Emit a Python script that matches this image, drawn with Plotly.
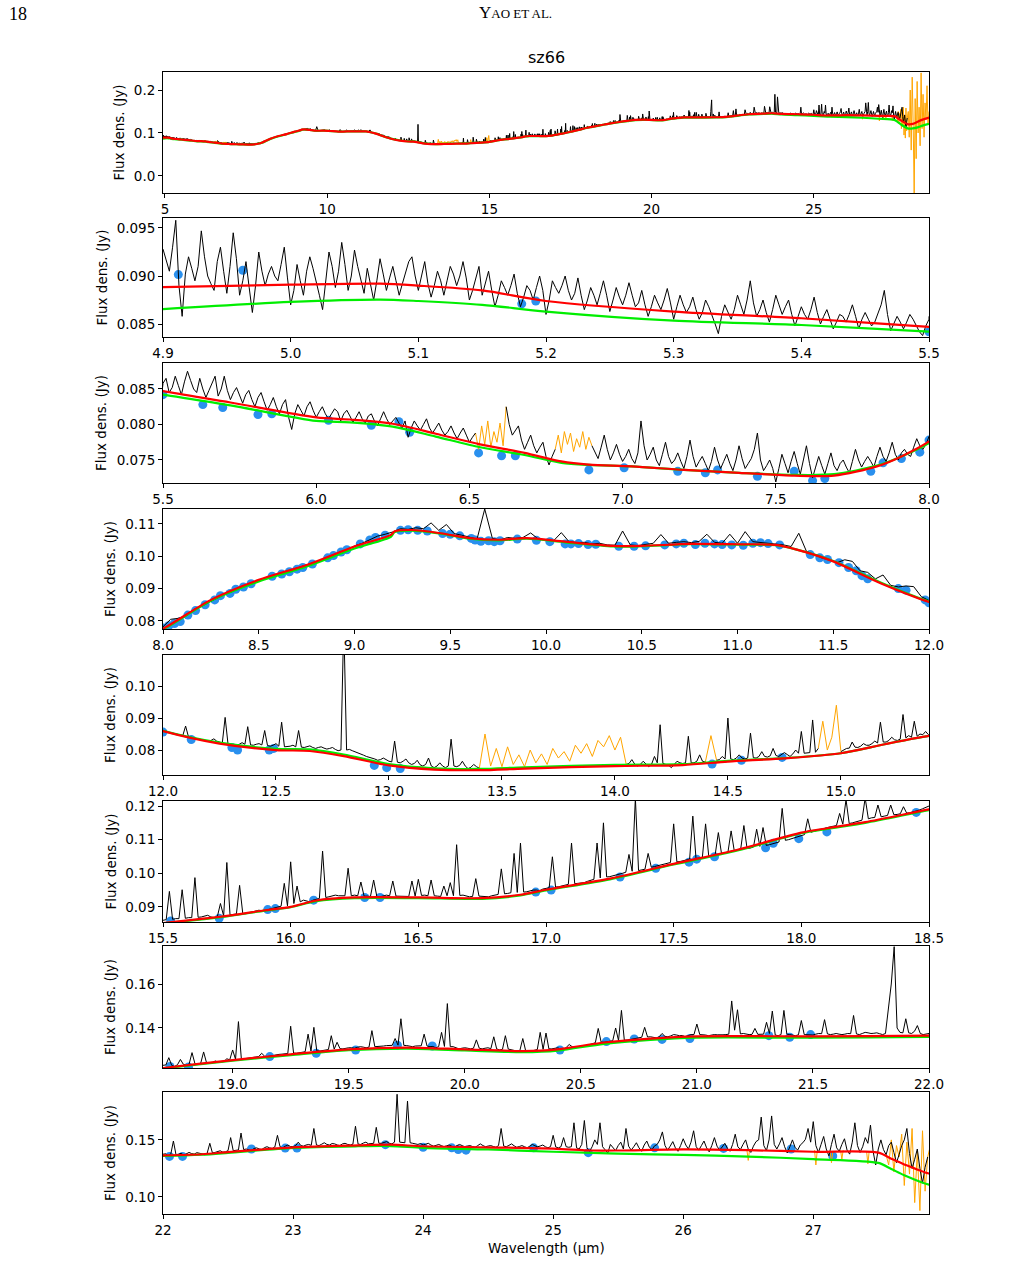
import numpy as np
import plotly.graph_objects as go

# ---------------- data (flux in mJy, wavelength in micron) ----------------
WL_P2 = (4.90, 5.50)
FLUX_P2 = [92.8, 91.5, 90.5, 93.0, 95.8, 89.0, 85.8, 90.2, 92.0, 90.8, 89.5, 91.0, 94.7, 92.0, 90.0, 89.2, 88.5, 91.5, 93.0, 90.5,
           88.2, 91.0, 94.5, 91.8, 88.0, 89.5, 91.5, 88.8, 86.2, 89.0, 92.5, 90.5, 89.0, 90.2, 91.0, 90.0, 89.5, 91.2, 93.0, 89.8,
           87.0, 88.5, 91.2, 89.5, 88.0, 90.5, 92.0, 90.8, 89.5, 88.0, 86.5, 89.8, 92.5, 91.0, 88.8, 90.5, 93.5, 91.2, 88.5, 90.0,
           92.7, 91.0, 89.5, 88.2, 90.8, 89.0, 87.5, 89.5, 91.8, 90.2, 88.5, 89.8, 91.0, 89.5, 88.0, 89.2, 90.5, 91.5, 92.0, 90.0,
           88.5, 90.0, 91.5, 89.2, 87.8, 89.0, 90.5, 89.5, 88.0, 89.5, 91.0, 90.2, 89.0, 90.0, 91.5, 89.8, 87.5, 88.5, 89.8, 91.0,
           88.0, 89.2, 90.5, 88.5, 86.8, 88.0, 89.5, 88.8, 88.0, 89.0, 90.2, 88.2, 86.8, 87.8, 89.0, 88.5, 87.5, 88.8, 90.0, 88.5,
           86.0, 87.5, 89.5, 88.8, 88.2, 89.0, 90.0, 88.5, 87.5, 88.2, 89.8, 88.0, 86.5, 87.5, 88.8, 88.0, 87.0, 88.2, 89.5, 88.0,
           86.3, 87.5, 88.8, 87.8, 87.0, 88.0, 89.3, 88.0, 86.8, 87.2, 88.5, 87.0, 85.8, 86.8, 88.0, 87.2, 86.5, 87.5, 88.7, 87.2,
           85.5, 86.8, 88.0, 87.0, 86.2, 86.8, 87.8, 86.5, 85.5, 86.2, 87.5, 86.8, 86.0, 85.0, 84.0, 85.8, 87.0, 86.2, 85.5, 86.5,
           88.0, 87.0, 86.0, 87.5, 89.5, 87.2, 85.8, 86.5, 87.5, 86.2, 85.2, 86.5, 88.0, 87.0, 86.0, 86.8, 87.5, 86.0, 84.8, 85.8,
           86.8, 86.0, 85.5, 86.5, 87.8, 86.2, 85.0, 85.8, 86.5, 85.5, 84.5, 85.2, 86.0, 85.8, 85.2, 86.0, 87.0, 85.8, 84.5, 85.5,
           86.2, 85.5, 84.8, 85.2, 86.0, 87.0, 88.5, 86.0, 84.3, 85.0, 85.8, 85.2, 84.5, 85.2, 86.0, 85.5, 84.8, 84.2, 83.8, 84.8,
           85.5]

WL_P3 = (5.50, 8.00)
FLUX_P3 = [85.8, 86.5, 84.5, 85.2, 86.8, 85.5, 84.2, 86.0, 87.5, 86.2, 85.0, 84.5, 86.5, 85.0, 83.8, 84.8, 85.8, 86.8, 84.0, 85.0,
           86.8, 84.8, 83.5, 84.5, 85.2, 84.0, 83.0, 84.2, 84.8, 83.5, 82.5, 83.8, 84.5, 83.2, 82.0, 82.8, 83.8, 82.5, 81.5, 82.8,
           83.5, 81.0, 79.3, 81.5, 82.8, 82.0, 81.2, 82.5, 83.2, 82.0, 81.0, 81.8, 82.5, 81.5, 80.8, 81.5, 82.2, 81.8, 80.5, 81.5,
           82.0, 81.2, 80.3, 81.0, 81.8, 80.8, 80.2, 81.2, 81.5, 80.5, 79.8, 80.8, 81.8, 80.8, 80.0, 80.5, 81.0, 80.2, 79.5, 80.5,
           78.2, 79.5, 80.5, 79.8, 79.2, 80.0, 80.8, 79.5, 78.8, 79.5, 80.2, 79.2, 78.5, 79.0, 79.8, 78.8, 78.0, 78.8, 79.5, 78.5,
           77.5, 78.2, 78.8, None, None, None, None, None, None, None, None, None, 82.5, 80.0, 78.5, 79.2, 79.8, 77.8, 76.5, 77.5,
           78.5, 77.0, 76.0, 76.8, 77.5, 75.5, 74.3, 75.5, 76.5, None, None, None, None, None, None, None, None, None, None, None,
           77.0, 76.0, 75.2, 76.8, 78.5, 76.5, 75.0, 76.0, 77.2, 75.8, 74.8, 75.5, 76.5, 75.2, 74.5, 76.0, 80.5, 77.0, 75.0, 75.8,
           76.8, 75.0, 74.2, 75.8, 77.5, 75.5, 74.5, 75.0, 76.0, 74.8, 73.8, 75.5, 77.8, 75.5, 74.0, 74.8, 75.5, 74.5, 73.5, 74.8,
           76.8, 75.0, 73.8, 74.8, 75.8, 74.5, 73.5, 75.0, 77.0, 75.2, 73.8, 74.5, 75.2, 76.5, 78.8, 75.0, 73.5, 74.2, 75.0, 73.8,
           71.9, 73.8, 75.8, 74.5, 73.2, 74.8, 76.2, 74.5, 73.0, 75.0, 77.0, 74.5, 72.5, 74.0, 75.5, 74.2, 73.0, 74.5, 76.0, 74.2,
           73.5, 74.5, 75.0, 74.0, 73.2, 74.8, 76.5, 75.0, 74.0, 74.8, 75.5, 74.8, 74.0, 75.5, 76.8, 75.5, 74.8, 76.0, 77.5, 75.8,
           75.0, 76.0, 76.5, 75.8, 75.5, 76.8, 78.0, 77.0, 76.5, 77.2, 78.3]

WL_P4 = (8.00, 12.00)
FLUX_P4 = [78.2, 80.5, 80.8, 81.5, 83.5, 84.5, 85.8, 87.0, 88.2, 89.0,
           90.2, 91.0, 92.0, 93.0, 93.8, 94.5, 95.2, 96.0, 96.8, 97.5,
           98.3, 99.0, 100.0, 101.2, 102.0, 103.2, 104.0, 105.2, 106.2, 106.8,
           107.5, 108.5, 108.3, 108.8, 108.5, 110.3, 108.0, 109.8, 107.0, 106.5,
           105.8, 105.3, 114.6, 105.5, 105.0, 105.8, 105.5, 105.8, 107.2, 105.3,
           105.0, 104.8, 107.3, 104.5, 104.2, 104.3, 103.8, 104.0, 103.5, 103.4,
           107.8, 103.5, 103.3, 103.6, 104.0, 106.7, 104.0, 104.3, 104.5, 104.2,
           104.6, 106.8, 104.3, 104.0, 106.8, 104.0, 107.6, 104.5, 104.3, 104.0,
           103.8, 103.5, 103.0, 107.1, 101.5, 100.5, 99.5, 98.8, 98.0, 98.9,
           98.4, 95.5, 95.0, 93.0, 94.2, 91.0, 90.5, 90.8, 90.6, 87.5,
           86.3]

WL_P5 = (12.00, 15.40)
FLUX_P5 = [86.0, 85.8, 85.5, 85.3, 85.2, 85.0, 84.8, 84.5, 87.5, 84.2, 84.0, 83.8, 83.5, 83.4, 83.2, 83.0, 82.8, 83.0, 83.5, 82.8,
           82.5, 82.2, 90.2, 82.0, 81.8, 81.6, 81.5, 81.8, 82.3, 81.8, 87.3, 81.6, 81.5, 81.8, 82.0, 81.6, 86.1, 81.4, 81.2, 81.5,
           82.0, 81.2, 88.7, 81.0, 81.0, 81.2, 81.5, 81.0, 86.1, 80.9, 80.8, 81.0, 81.3, 80.8, 80.5, 80.8, 81.0, 80.6, 80.3, 80.5,
           80.8, 80.2, 79.8, 80.0, 120.0, 80.0, 80.2, 79.8, 79.5, 79.2, 78.8, 78.4, 78.0, 77.8, 77.5, 77.2, 76.8, 77.0, 77.5, 77.0,
           76.5, 76.3, 82.8, 76.2, 76.0, 76.5, 77.2, 76.0, 75.5, 75.8, 76.8, 75.4, 75.0, 75.5, 77.5, 75.0, 74.5, 75.0, 76.0, 75.0,
           74.5, 75.0, 83.4, 75.0, 74.8, 75.2, 76.5, 75.0, 74.2, 74.6, 75.5, 74.8, 74.3,
           None, None, None, None, None, None, None, None, None, None,
           None, None, None, None, None, None, None, None, None, None,
           None, None, None, None, None, None, None, None, None, None,
           None, None, None, None, None, None, None, None, None, None,
           None, None, None, None, None, None, None, None, None, None,
           None,
           75.5, 75.8, 77.0, 75.6, 75.0, 75.5, 76.5, 75.5, 74.8, 75.6, 78.0, 76.0, 87.9, 75.8, 75.5,
           75.2, 74.5, 75.5, 76.5, 76.0, 75.8, 76.0, 84.3, 76.0, 76.0, 76.5, 78.5, 76.5, 76.2,
           None, None, None,
           76.8, 77.0, 78.0, 77.2, 90.0, 77.2, 77.0, 77.5, 78.5, 77.5, 77.2, 77.5, 85.3, 77.6, 77.5, 78.0, 79.5, 78.0, 77.8,
           78.2, 80.5, 78.3, 78.0, 78.5, 79.2, 78.6, 78.0, 78.8, 80.0, 79.0, 85.8, 79.0, 79.0, 79.2, 89.4, 79.3, 80.5,
           None, None, None, None, None, None, None,
           79.5, 80.0, 80.5, 80.6, 82.5, 80.9, 80.8, 81.2, 82.0, 81.5, 81.5, 82.0, 82.8, 82.2, 88.7, 82.5, 82.5,
           83.0, 84.0, 83.2, 83.0, 83.4, 91.1, 83.8, 84.5, 84.0, 89.0, 84.3, 85.0, 84.8, 85.8, 84.8, 84.8]

WL_P6 = (15.50, 18.50)
FLUX_P6 = [86.0, 86.2, 94.6, 86.3, 86.5, 86.5, 95.1, 86.6, 86.8, 86.8, 98.7, 86.9, 87.0, 87.2, 87.5, 87.0, 86.8, 87.0, 91.0, 87.3,
           103.2, 87.6, 87.8, 87.9, 96.4, 88.0, 88.0, 88.3, 88.5, 88.8, 89.0, 88.9, 88.8, 89.2, 89.5, 89.8, 90.0, 90.2, 97.0, 90.3,
           103.4, 91.0, 96.2, 91.5, 92.0, 91.8, 91.5, 92.0, 92.2, 92.5, 106.6, 92.8, 93.0, 93.2, 93.5, 93.3, 93.2, 93.3, 101.5, 93.3,
           93.5, 93.3, 97.4, 93.2, 93.2, 93.1, 98.0, 93.1, 93.0, 93.2, 93.5, 93.3, 97.7, 93.2, 93.2, 93.1, 93.0, 93.1, 97.7, 93.2,
           98.2, 93.4, 93.5, 93.3, 98.0, 93.3, 93.2, 93.1, 96.2, 93.3, 97.2, 93.3, 108.5, 93.4, 93.5, 93.2, 93.0, 93.1, 98.4, 93.2,
           93.2, 93.1, 93.0, 93.3, 93.5, 93.7, 101.3, 93.9, 94.0, 94.2, 105.9, 94.3, 109.0, 94.4, 94.5, 94.8, 95.0, 95.0, 94.8, 95.3,
           95.5, 95.7, 104.9, 95.9, 96.0, 96.2, 96.5, 96.7, 109.0, 96.9, 97.0, 97.1, 97.2, 97.6, 98.0, 98.2, 109.0, 98.6, 115.0, 98.9,
           99.0, 99.2, 99.5, 99.8, 100.0, 100.3, 105.6, 100.6, 122.4, 100.8, 101.0, 101.2, 105.9, 101.8, 102.0, 102.2, 102.5, 102.8, 103.0, 103.2,
           114.7, 103.4, 103.5, 103.8, 104.0, 104.2, 117.0, 104.4, 104.5, 104.8, 114.7, 105.0, 105.2, 105.5, 112.1, 105.8, 106.0, 106.2, 112.6, 106.6,
           107.0, 107.2, 114.2, 107.4, 107.5, 107.8, 113.1, 108.0, 113.6, 108.3, 108.5, 108.8, 109.0, 109.3, 119.3, 109.8, 110.0, 110.3, 110.5, 110.8,
           111.0, 111.5, 116.2, 112.2, 112.5, 112.8, 113.0, 113.2, 113.5, 113.8, 114.0, 114.2, 117.8, 114.6, 121.9, 114.8, 115.0, 115.2, 115.5, 115.8,
           122.4, 116.2, 116.5, 116.6, 120.3, 116.8, 117.0, 117.2, 120.3, 117.4, 117.5, 117.7, 119.8, 117.9, 118.0, 118.2, 118.5, 118.8, 119.2, 119.5,
           120.0]

WL_P7 = (18.70, 22.00)
FLUX_P7 = [123.0, 123.2, 126.5, 123.0, 122.5, 123.3, 125.7, 123.5, 123.0, 123.6, 128.8, 123.8, 123.5, 124.0, 129.1, 124.2, 124.0, 124.3, 125.0, 124.5,
           124.5, 124.8, 126.0, 125.5, 130.0, 125.8, 142.9, 126.0, 126.0, 126.2, 126.5, 126.6, 126.8, 127.0, 128.5, 127.2, 127.0, 127.3, 127.5, 127.8,
           128.0, 128.1, 128.2, 128.4, 140.8, 128.6, 128.5, 128.8, 129.0, 129.2, 137.2, 129.5, 140.3, 129.6, 129.5, 129.8, 130.0, 130.2, 136.5, 130.4,
           133.5, 130.6, 130.5, 130.8, 131.0, 131.0, 130.8, 131.2, 131.5, 131.3, 131.0, 131.3, 138.8, 131.5, 131.5, 131.7, 131.8, 132.0, 132.0, 132.1,
           135.2, 132.2, 144.2, 132.1, 132.0, 131.8, 131.5, 131.8, 132.0, 131.9, 137.2, 131.8, 131.5, 131.6, 131.0, 131.5, 138.0, 131.6, 151.1, 131.5,
           131.5, 131.0, 130.5, 130.8, 131.0, 130.8, 130.5, 130.8, 134.6, 130.8, 130.5, 130.8, 131.0, 130.6, 136.0, 130.5, 130.0, 130.3, 136.5, 130.4,
           130.0, 129.8, 129.5, 129.8, 135.2, 129.6, 129.0, 129.5, 130.0, 130.2, 138.0, 130.3, 137.7, 130.5, 130.5, 130.8, 131.0, 130.5, 130.0, 131.2,
           132.5, 131.5, 131.0, 131.5, 131.8, 132.0, 132.0, 132.5, 133.0, 133.3, 139.8, 133.6, 133.5, 133.8, 134.0, 134.2, 140.0, 134.3, 148.0, 134.4,
           134.5, 134.8, 135.0, 135.2, 135.5, 135.8, 140.3, 135.9, 136.0, 135.8, 135.5, 136.0, 137.5, 136.2, 136.0, 136.4, 137.0, 136.8, 136.5, 136.6,
           136.0, 136.5, 137.0, 137.0, 141.8, 137.0, 137.0, 136.8, 136.5, 136.8, 137.0, 136.9, 136.8, 136.9, 137.0, 137.2, 152.3, 139.0, 148.3, 137.3,
           137.5, 137.2, 137.0, 137.1, 139.8, 137.1, 137.0, 137.2, 142.6, 137.5, 147.7, 136.8, 136.5, 137.0, 148.0, 137.2, 137.0, 136.8, 136.5, 136.9,
           143.4, 137.0, 137.0, 136.9, 136.8, 137.2, 137.5, 137.4, 143.8, 137.3, 137.0, 137.2, 137.5, 137.2, 137.0, 137.2, 137.5, 137.4, 145.7, 137.3,
           137.0, 137.5, 138.0, 137.8, 137.5, 137.6, 137.8, 137.4, 137.0, 137.5, 150.0, 160.0, 177.0, 140.0, 138.0, 137.8, 144.2, 137.8, 137.5, 138.5,
           141.1, 137.5, 137.0, 137.2, 137.5]

WL_P8 = (22.00, 27.88)
FLUX_P8 = [137.0, 137.8, 136.0, 137.5, 149.0, 137.0, 137.5, 138.2, 136.5, 137.8, 139.0, 138.0, 137.5, 138.8, 138.5, 137.8, 137.0, 138.5, 147.0, 138.6,
           139.0, 140.0, 140.5, 139.2, 139.5, 140.6, 152.0, 140.5, 141.0, 141.2, 156.0, 141.5, 142.0, 141.0, 140.5, 142.5, 143.0, 142.0, 141.5, 143.2,
           144.0, 143.0, 142.5, 143.8, 154.0, 144.0, 143.0, 144.5, 145.5, 144.2, 144.0, 145.0, 148.0, 145.0, 144.5, 145.5, 146.0, 145.2, 160.0, 145.5,
           145.0, 146.2, 147.5, 146.0, 145.5, 146.8, 146.5, 145.5, 145.0, 146.5, 147.0, 146.0, 145.5, 146.2, 162.0, 146.3, 146.0, 147.2, 148.0, 146.5,
           146.5, 147.0, 161.0, 147.0, 147.0, 147.8, 148.5, 147.0, 146.5, 148.0, 190.0, 148.0, 148.0, 147.5, 184.0, 147.5, 147.0, 146.5, 146.0, 146.8,
           145.5, 146.2, 147.0, 145.5, 144.5, 145.2, 146.0, 145.0, 144.0, 144.8, 145.5, 144.5, 143.5, 145.0, 146.0, 145.0, 144.0, 144.6, 145.0, 144.2,
           143.5, 145.0, 146.5, 145.0, 144.0, 144.6, 145.0, 144.2, 143.5, 145.0, 160.0, 144.5, 144.0, 145.2, 146.5, 144.8, 143.5, 144.2, 145.0, 144.0,
           143.0, 144.5, 146.0, 144.8, 144.0, 144.6, 145.5, 144.0, 143.0, 144.2, 154.0, 143.8, 143.0, 144.0, 152.0, 144.0, 143.5, 144.0, 165.0, 143.0,
           142.0, 146.0, 167.0, 143.0, 140.0, 144.0, 150.0, 146.0, 165.0, 144.0, 141.0, 138.5, 146.0, 143.0, 140.5, 145.0, 148.0, 142.0, 160.0, 144.5,
           141.0, 144.0, 147.5, 143.0, 140.0, 145.5, 149.0, 143.5, 141.5, 144.8, 146.0, 150.0, 157.0, 145.0, 141.0, 144.5, 148.5, 143.0, 140.0, 145.0,
           151.0, 145.5, 142.0, 148.0, 158.0, 144.0, 141.0, 145.0, 149.0, 143.0, 139.5, 145.0, 152.0, 144.5, 141.0, 143.8, 147.0, 142.5, 140.0, 146.0,
           155.0, 144.0, 141.5, 146.0, 150.0, 142.0, 139.0, 144.5, 148.5, 150.0, 170.0, 145.0, 140.5, 150.0, 171.0, 146.0, 142.0, 146.5, 152.0, 144.0,
           138.5, 144.0, 150.0, 143.5, 141.0, 145.5, 147.5, 150.5, 160.0, 148.0, 166.0, 145.0, 139.0, 146.0, 153.0, 142.0, 136.0, 146.0, 155.0, 143.0,
           140.0, 146.0, 151.0, 141.0, 137.5, 148.0, 165.0, 145.0, 139.0, 144.0, 152.0, 147.0, 163.0, 140.0, 128.0, 142.0, 150.0, 141.5, 137.0, 145.0,
           148.0, 139.0, 130.0, 137.0, 145.0, 150.0, 160.0, 138.0, 125.0, 133.0, 142.0, 125.0, 112.0, 126.0, 135.0]

# flagged (orange) stretches: (start, end) and their values
ORANGE_RANGES = [(6.52, 6.62), (6.78, 6.90), (13.40, 14.05), (14.40, 14.45),
                 (14.90, 15.00), (26.49, 26.51), (27.01, 27.03), (27.13, 27.15),
                 (27.21, 27.23), (27.41, 27.43), (27.56, 27.88), (27.88, 28.55)]
ORANGE_VALUES = [
    [78.8, 76.5, 79.8, 77.2, 80.5, 76.8, 79.0, 77.5, 80.2, 77.0, 82.5],
    [76.5, 78.5, 76.0, 79.0, 77.2, 78.8, 76.2, 78.0, 76.8, 79.0, 76.5, 78.2, 77.0],
    [74.3, 85.0, 75.0, 80.5, 74.8, 81.0, 75.5, 78.5, 74.8, 80.0, 76.0, 78.8, 75.5,
     80.5, 77.5, 79.5, 76.5, 81.5, 79.0, 82.0, 78.0, 83.0, 81.0, 84.5, 80.0, 84.0, 75.5],
    [76.2, 84.5, 76.8],
    [80.5, 89.0, 80.0, 84.0, 94.0, 79.5],
    [141.0, 132.0, 141.0],
    [141.0, 128.0, 140.0],
    [139.0, 130.0, 140.0],
    [141.0, 133.0, 141.0],
    [140.0, 129.0, 140.0],
    [137.0, 128.0, 150.0, 122.0, 145.0, 135.0, 155.0, 110.0, 148.0, 120.0, 160.0,
     95.0, 140.0, 88.0, 158.0, 105.0, 135.0],
    [135.0, 150.0, 90.0, 200.0, 60.0, 230.0, 120.0, -40.0, 180.0, 40.0, 220.0, 100.0,
     160.0, 70.0, 240.0, 110.0, 190.0, 90.0, 170.0, 130.0, 210.0, 120.0, 150.0],
]

# continuum models (red = total, green = alternative)
RED_WL = [4.90, 5.00, 5.07, 5.10, 5.15, 5.20, 5.30, 5.40, 5.50, 5.72, 6.00, 6.11, 6.25,
          6.39, 6.535, 6.68, 6.80, 6.89, 7.03, 7.20, 7.38, 7.56, 7.69, 7.83, 7.91, 8.00,
          8.25, 8.50, 8.75, 9.00, 9.19, 9.21, 9.30, 9.45, 9.60, 9.75, 9.90, 10.10, 10.35,
          10.50, 10.75, 11.00, 11.20, 11.30, 11.50, 11.75, 12.00, 12.25, 12.50, 12.65,
          12.80, 13.00, 13.20, 13.40, 13.60, 14.00, 14.30, 14.50, 14.75, 15.00, 15.20,
          15.40, 15.50, 15.75, 15.90, 16.00, 16.10, 16.25, 16.50, 16.75, 16.90, 17.00,
          17.25, 17.50, 17.75, 18.00, 18.10, 18.25, 18.50, 18.70, 19.00, 19.25, 19.50,
          19.75, 20.00, 20.25, 20.40, 20.60, 20.80, 21.00, 21.50, 22.00, 22.30, 22.50,
          23.00, 23.50, 23.75, 24.00, 24.50, 25.00, 25.30, 25.50, 26.00, 26.50, 27.00,
          27.50, 27.60, 27.70, 27.89, 27.95, 28.05, 28.20, 28.35, 28.55]
RED_FLUX = [88.85, 89.1, 89.2, 89.0, 88.5, 87.4, 86.3, 85.6, 84.7, 83.1, 81.0, 80.7, 80.1,
            78.7, 77.2, 76.0, 74.8, 74.35, 74.1, 73.6, 73.2, 72.8, 72.8, 74.1, 75.5, 77.6,
            86.5, 92.7, 97.3, 103.0, 106.6, 107.7, 108.1, 107.1, 105.6, 105.1, 105.6, 104.5,
            103.2, 103.2, 103.8, 103.7, 103.5, 102.2, 98.4, 91.6, 85.9, 82.0, 80.0, 79.7,
            78.1, 75.2, 73.9, 73.7, 74.2, 75.0, 75.3, 76.4, 77.4, 79.0, 81.9,
            84.5, 85.2, 87.3, 89.0, 90.0, 91.9, 92.8, 92.8, 92.6, 93.6, 95.1,
            98.4, 102.8, 107.0, 112.1, 113.4, 115.2, 119.0, 121.8, 125.4, 128.0, 130.3,
            131.1, 130.3, 129.5, 130.3, 133.4, 135.2, 136.2, 136.2, 136.5, 137.4, 139.3,
            143.5, 145.2, 145.8, 144.4, 143.5, 142.4, 140.7, 140.7, 141.6, 141.0, 139.6,
            138.8, 133.5, 128.5, 120.5, 120.0, 121.0, 126.0, 131.0, 136.0]
GREEN_FLUX = [86.55, 87.3, 87.55, 87.4, 87.0, 86.3, 85.35, 84.9, 84.2, 82.7, 80.5, 80.3, 79.7,
              78.3, 76.8, 75.7, 74.6, 74.3, 74.1, 73.6, 73.2, 72.9, 73.0, 74.2, 75.5, 77.4,
              86.2, 92.2, 96.8, 102.4, 106.0, 107.5, 107.9, 107.0, 105.4, 104.9, 105.4, 104.3,
              103.0, 103.1, 103.7, 103.6, 103.4, 102.2, 98.5, 91.8, 86.0, 82.3, 80.4, 80.2,
              78.6, 75.6, 74.3, 74.1, 74.6, 75.4, 75.6, 76.6, 77.5, 79.0, 81.9,
              84.5, 85.1, 87.2, 88.9, 89.9, 91.7, 92.6, 92.6, 92.4, 93.4, 94.9,
              98.2, 102.6, 106.8, 111.9, 113.2, 115.0, 118.8, 121.6, 125.1, 127.6, 129.9,
              130.6, 129.8, 129.0, 129.7, 132.8, 134.6, 135.6, 135.6, 136.0, 137.0, 138.6,
              143.0, 144.4, 144.6, 143.0, 141.6, 139.6, 138.6, 137.9, 136.9, 135.4, 133.1,
              129.8, 124.5, 119.0, 110.7, 110.0, 110.5, 113.0, 117.0, 121.0]

# continuum anchor points (blue)
BLUE_WL = [4.912, 4.9625, 5.181, 5.192,
           5.50, 5.63, 5.695, 5.81, 5.855, 6.04, 6.18, 6.27, 6.305, 6.53, 6.605, 6.65, 6.89,
           7.005, 7.18, 7.27, 7.31, 7.44, 7.56, 7.62, 7.66, 7.81, 7.85, 7.91, 7.97, 8.00,
           8.03, 8.06, 8.09, 8.13, 8.17, 8.22, 8.27, 8.30, 8.35, 8.38, 8.42, 8.46, 8.57, 8.62,
           8.66, 8.70, 8.73, 8.78, 8.86, 8.89, 8.93, 8.96, 9.03, 9.08, 9.11, 9.16, 9.24, 9.28,
           9.33, 9.38, 9.46, 9.50, 9.55, 9.61, 9.63, 9.66, 9.70, 9.73, 9.76, 9.85, 9.95,
           10.02, 10.10, 10.13, 10.17, 10.22, 10.26, 10.38, 10.46, 10.52, 10.62, 10.68,
           10.72, 10.78, 10.83, 10.88, 10.92, 10.97, 11.03, 11.08, 11.12, 11.16, 11.22,
           11.38, 11.43, 11.47, 11.53, 11.58, 11.62, 11.65, 11.68, 11.84, 11.88, 11.98, 12.00,
           12.125, 12.305, 12.33, 12.47, 12.49, 12.935, 12.99, 13.05, 14.43, 14.56, 14.74,
           15.53, 15.72, 15.91, 15.94, 16.09, 16.29, 16.35, 16.96, 17.02, 17.29, 17.43,
           17.56, 17.59, 17.66, 17.86, 17.89, 17.99, 18.10, 18.45,
           18.73, 18.81, 19.16, 19.36, 19.53, 19.71, 19.86, 20.41, 20.61, 20.73, 20.85,
           20.97, 21.31, 21.40, 21.49,
           22.05, 22.15, 22.68, 22.94, 23.03, 23.71, 24.00, 24.22, 24.27, 24.33, 24.85,
           25.27, 25.78, 26.31, 26.83, 27.15]
BLUE_FLUX = [90.15, 90.6, 87.1, 87.4,
             84.2, 82.8, 82.4, 81.4, 81.5, 80.6, 79.9, 80.4, 78.9, 76.0, 75.6, 75.6, 73.6,
             73.9, 73.4, 73.2, 73.6, 72.7, 73.4, 72.1, 72.4, 73.4, 74.6, 75.2, 76.1, 77.8,
             78.5, 79.2, 79.8, 81.8, 83.2, 85.0, 86.5, 87.8, 88.5, 89.8, 90.5, 91.5, 93.8, 94.5,
             95.2, 96.0, 96.5, 97.6, 99.5, 100.2, 101.3, 102.0, 103.8, 105.0, 105.8, 106.5, 108.0, 108.2,
             108.0, 107.8, 107.0, 106.8, 106.3, 105.5, 105.0, 104.6, 104.8, 104.5, 104.8, 105.3, 104.9,
             104.5, 103.8, 103.8, 103.9, 103.6, 103.7, 103.1, 103.1, 103.2, 103.5, 103.8,
             104.0, 103.6, 104.0, 103.8, 103.6, 103.5, 103.4, 104.0, 104.2, 103.9, 103.5,
             100.5, 99.5, 99.0, 98.0, 96.5, 95.5, 94.0, 93.0, 90.0, 89.5, 86.5, 85.6,
             83.3, 80.8, 80.0, 80.0, 80.5, 75.2, 74.5, 74.2, 75.6, 76.8, 77.7,
             85.8, 86.6, 89.2, 89.5, 92.0, 92.8, 92.8, 94.4, 95.0, 98.9, 101.5,
             103.3, 104.2, 104.9, 107.6, 108.9, 110.3, 112.3, 118.1,
             122.5, 122.3, 127.0, 128.5, 130.0, 132.2, 131.8, 130.0, 133.8, 135.0, 134.8,
             135.2, 136.5, 135.8, 137.0,
             135.5, 135.5, 142.0, 142.8, 142.8, 145.8, 143.5, 143.0, 141.6, 141.0, 143.0,
             138.8, 143.0, 142.5, 142.0, 135.9]

# panel axis settings
X_RANGES = [(4.94, 28.55), (4.90, 5.50), (5.50, 8.00), (8.00, 12.00),
            (12.00, 15.39), (15.50, 18.50), (18.70, 22.00), (22.00, 27.89)]
Y_RANGES = [(-0.04, 0.242), (0.08365, 0.09604), (0.07176, 0.08866), (0.0775, 0.1146),
            (0.0722, 0.1097), (0.0855, 0.1215), (0.1218, 0.1773), (0.085, 0.192)]
X_DTICK = [5, 0.1, 0.5, 0.5, 0.5, 0.5, 0.5, 1]
X_FMT = ["d", ".1f", ".1f", ".1f", ".1f", ".1f", ".1f", "d"]
Y_DTICK = [0.1, 0.005, 0.005, 0.01, 0.01, 0.01, 0.02, 0.05]
Y_FMT = [".1f", ".3f", ".3f", ".2f", ".2f", ".2f", ".2f", ".2f"]

# ---------------- build series ----------------
W, H = 1028, 1284
segments = [(WL_P2, FLUX_P2), (WL_P3, FLUX_P3), (WL_P4, FLUX_P4), (WL_P5, FLUX_P5),
            (WL_P6, FLUX_P6), (WL_P7, FLUX_P7), (WL_P8, FLUX_P8)]
bx = np.concatenate([np.linspace(r[0], r[1], len(v)) for r, v in segments])
by = np.concatenate([np.array(v, dtype=float) for r, v in segments]) / 1000.0

ox, oy = [], []
for (a, b), vals in zip(ORANGE_RANGES, ORANGE_VALUES):
    ox += list(np.linspace(a, b, len(vals))) + [None]
    oy += [v / 1000.0 for v in vals] + [None]

red_y = np.array(RED_FLUX) / 1000.0
green_y = np.array(GREEN_FLUX) / 1000.0
blue_y = np.array(BLUE_FLUX) / 1000.0

fig = go.Figure()
tops = [72, 218, 363, 509, 655, 801, 946, 1092]
bots = [193, 337, 483, 629, 775, 922, 1068, 1214]
xl, xr = 163, 929
FONT = "DejaVu Sans"

for i in range(8):
    xa = "x" if i == 0 else f"x{i+1}"
    ya = "y" if i == 0 else f"y{i+1}"
    if i > 0:
        fig.add_trace(go.Scatter(x=BLUE_WL, y=blue_y, mode="markers", xaxis=xa, yaxis=ya,
                                 marker=dict(color="#2a90ee", size=9, line=dict(width=0)),
                                 showlegend=False, hoverinfo="skip"))
    fig.add_trace(go.Scatter(x=ox, y=oy, mode="lines", xaxis=xa, yaxis=ya,
                             line=dict(color="#ffa500", width=1), showlegend=False,
                             hoverinfo="skip"))
    fig.add_trace(go.Scatter(x=bx, y=by, mode="lines", xaxis=xa, yaxis=ya,
                             line=dict(color="#000000", width=1), showlegend=False,
                             hoverinfo="skip"))
    fig.add_trace(go.Scatter(x=RED_WL, y=green_y, mode="lines", xaxis=xa, yaxis=ya,
                             line=dict(color="#00ee00", width=2.2, shape="spline", smoothing=0.8),
                             showlegend=False, hoverinfo="skip"))
    fig.add_trace(go.Scatter(x=RED_WL, y=red_y, mode="lines", xaxis=xa, yaxis=ya,
                             line=dict(color="#ff0000", width=2.2, shape="spline", smoothing=0.8),
                             showlegend=False, hoverinfo="skip"))

    xkey = "xaxis" if i == 0 else f"xaxis{i+1}"
    ykey = "yaxis" if i == 0 else f"yaxis{i+1}"
    common = dict(showline=True, mirror=True, linecolor="black", linewidth=1,
                  ticks="outside", ticklen=4, tickwidth=1, tickcolor="black",
                  showgrid=False, zeroline=False, automargin=False,
                  tickfont=dict(family=FONT, size=13.5, color="black"))
    fig.layout[xkey] = dict(domain=[xl / W, xr / W], range=list(X_RANGES[i]),
                            anchor=ya, tickmode="linear", tick0=0, dtick=X_DTICK[i],
                            tickformat=X_FMT[i], **common)
    fig.layout[ykey] = dict(domain=[1 - bots[i] / H, 1 - tops[i] / H], range=list(Y_RANGES[i]),
                            anchor=xa, tickmode="linear", tick0=0, dtick=Y_DTICK[i],
                            tickformat=Y_FMT[i], **common)

annotations = []
label_x = [118, 101, 101, 110, 110, 110, 110, 110]
for i in range(8):
    annotations.append(dict(text="Flux dens. (Jy)", xref="paper", yref="paper",
                            x=label_x[i] / W, y=1 - (tops[i] + bots[i]) / 2 / H,
                            textangle=-90, showarrow=False, xanchor="center", yanchor="middle",
                            font=dict(family=FONT, size=13.5, color="black")))
annotations.append(dict(text="sz66", xref="paper", yref="paper", x=(xl + xr) / 2 / W,
                        y=1 - 58 / H, showarrow=False, xanchor="center", yanchor="middle",
                        font=dict(family=FONT, size=16, color="black")))
annotations.append(dict(text="Wavelength (μm)", xref="paper", yref="paper", x=(xl + xr) / 2 / W,
                        y=1 - 1248 / H, showarrow=False, xanchor="center", yanchor="middle",
                        font=dict(family=FONT, size=13.5, color="black")))
annotations.append(dict(text="18", xref="paper", yref="paper", x=7 / W, y=1 - 14 / H,
                        showarrow=False, xanchor="left", yanchor="middle",
                        font=dict(family="Liberation Serif", size=18, color="black")))
annotations.append(dict(text="Y<span style='font-size:13px'>AO ET AL.</span>", xref="paper",
                        yref="paper", x=515 / W, y=1 - 13 / H, showarrow=False,
                        xanchor="center", yanchor="middle",
                        font=dict(family="Liberation Serif", size=17, color="black")))

fig.update_layout(width=W, height=H, margin=dict(l=0, r=0, t=0, b=0, autoexpand=False),
                  paper_bgcolor="white", plot_bgcolor="white",
                  annotations=annotations, showlegend=False)

fig.write_html("out.html")
